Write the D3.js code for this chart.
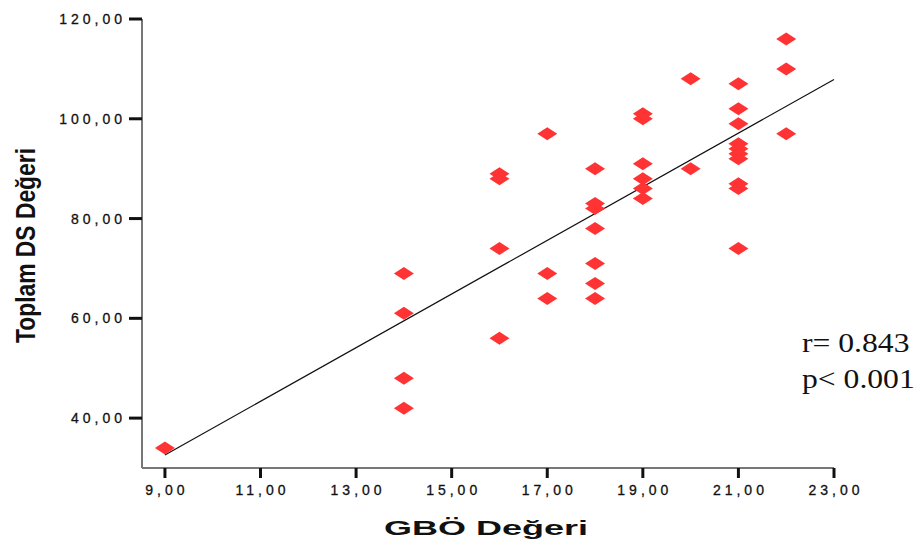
<!DOCTYPE html>
<html><head><meta charset="utf-8">
<script src="https://cdn.jsdelivr.net/npm/d3@7"></script>
<style>body{margin:0;background:#fff}svg{display:block}</style>
</head><body>
<svg id="c" width="916" height="545"></svg>
<script>
// GBÖ values (x) and Toplam DS values (y)
const gboValues = [9, 14,14,14,14, 16,16,16,16, 17,17,17, 18,18,18,18,18,18,18, 19,19,19,19,19,19, 20,20, 21,21,21,21,21,21,21,21,21,21, 22,22,22];
const dsValues  = [34, 69,61,48,42, 89,88,74,56, 97,69,64, 90,83,82,78,71,67,64, 101,100,91,88,86,84, 108,90, 107,102,99,95,94,93,92,87,86,74, 116,110,97];
const xTicks = [9, 11, 13, 15, 17, 19, 21, 23];
const yTicks = [40, 60, 80, 100, 120];
const xTitle = "GBÖ Değeri";
const yTitle = "Toplam DS Değeri";
const statLines = ["r= 0.843", "p< 0.001"];

const svg = d3.select("#c");
const x = d3.scaleLinear().domain([8.52, 23]).range([142, 834]);
const y = d3.scaleLinear().domain([30, 120]).range([468, 19]);
const fmt = v => d3.format(".2f")(v).replace(".", ",");

// axes lines
svg.append("line").attr("x1", 142).attr("x2", 142).attr("y1", y(120)).attr("y2", 468)
  .attr("stroke", "#777").attr("stroke-width", 2);
svg.append("line").attr("x1", 142).attr("x2", x(23)).attr("y1", 468).attr("y2", 468)
  .attr("stroke", "#777").attr("stroke-width", 2);

// y ticks
const yt = svg.append("g");
yt.selectAll("line").data(yTicks).join("line")
  .attr("x1", 129).attr("x2", 142).attr("y1", d => y(d)).attr("y2", d => y(d))
  .attr("stroke", "#111").attr("stroke-width", 3);
yt.selectAll("text").data(yTicks).join("text")
  .attr("x", 126).attr("y", d => y(d) + 5)
  .attr("text-anchor", "end")
  .attr("font-family", "Liberation Sans, Arial, sans-serif").attr("font-size", 14)
  .attr("letter-spacing", "4px").attr("fill", "#111").attr("stroke", "#111").attr("stroke-width", 0.3)
  .text(fmt);

// x ticks
const xt = svg.append("g");
xt.selectAll("line").data(xTicks).join("line")
  .attr("x1", d => x(d)).attr("x2", d => x(d)).attr("y1", 468).attr("y2", 478)
  .attr("stroke", "#111").attr("stroke-width", 3);
xt.selectAll("text").data(xTicks).join("text")
  .attr("x", d => x(d) + 2).attr("y", 495)
  .attr("text-anchor", "middle")
  .attr("font-family", "Liberation Sans, Arial, sans-serif").attr("font-size", 14)
  .attr("letter-spacing", "4px").attr("fill", "#111").attr("stroke", "#111").attr("stroke-width", 0.3)
  .text(fmt);

// regression line
const mx = d3.mean(gboValues), my = d3.mean(dsValues);
let sxy = 0, sxx = 0;
gboValues.forEach((v, i) => { sxy += (v - mx) * (dsValues[i] - my); sxx += (v - mx) * (v - mx); });
const slope = sxy / sxx, icpt = my - slope * mx;
const x0 = d3.min(gboValues), x1 = d3.max(xTicks);
svg.append("line")
  .attr("x1", x(x0)).attr("y1", y(icpt + slope * x0))
  .attr("x2", x(x1)).attr("y2", y(icpt + slope * x1))
  .attr("stroke", "#111").attr("stroke-width", 1.2);

// points
const diamond = "M-10,0L0,-6.5L10,0L0,6.5Z";
svg.append("g").selectAll("path").data(gboValues.map((v, i) => [v, dsValues[i]])).join("path")
  .attr("d", diamond)
  .attr("transform", d => `translate(${x(d[0])},${y(d[1])})`)
  .attr("fill", "#ff3333");

// titles
svg.append("text").attr("x", 384).attr("y", 535)
  .attr("font-family", "Liberation Sans, Arial, sans-serif").attr("font-weight", "bold").attr("font-size", 21)
  .attr("textLength", 204).attr("lengthAdjust", "spacingAndGlyphs").attr("fill", "#111")
  .text(xTitle);
svg.append("text").attr("transform", "translate(35,343) rotate(-90)")
  .attr("font-family", "Liberation Sans, Arial, sans-serif").attr("font-weight", "bold").attr("font-size", 27)
  .attr("textLength", 195).attr("lengthAdjust", "spacingAndGlyphs").attr("fill", "#111")
  .text(yTitle);

// stats
svg.append("g").selectAll("text").data(statLines).join("text")
  .attr("x", 802).attr("y", (d, i) => 352 + i * 36)
  .attr("font-family", "Liberation Serif, Times New Roman, serif").attr("font-size", 28)
  .attr("fill", "#111")
  .text(d => d)
  .each(function () {
    const w = this.getComputedTextLength();
    d3.select(this).attr("textLength", w * 1.13).attr("lengthAdjust", "spacingAndGlyphs");
  });
</script>
</body></html>
